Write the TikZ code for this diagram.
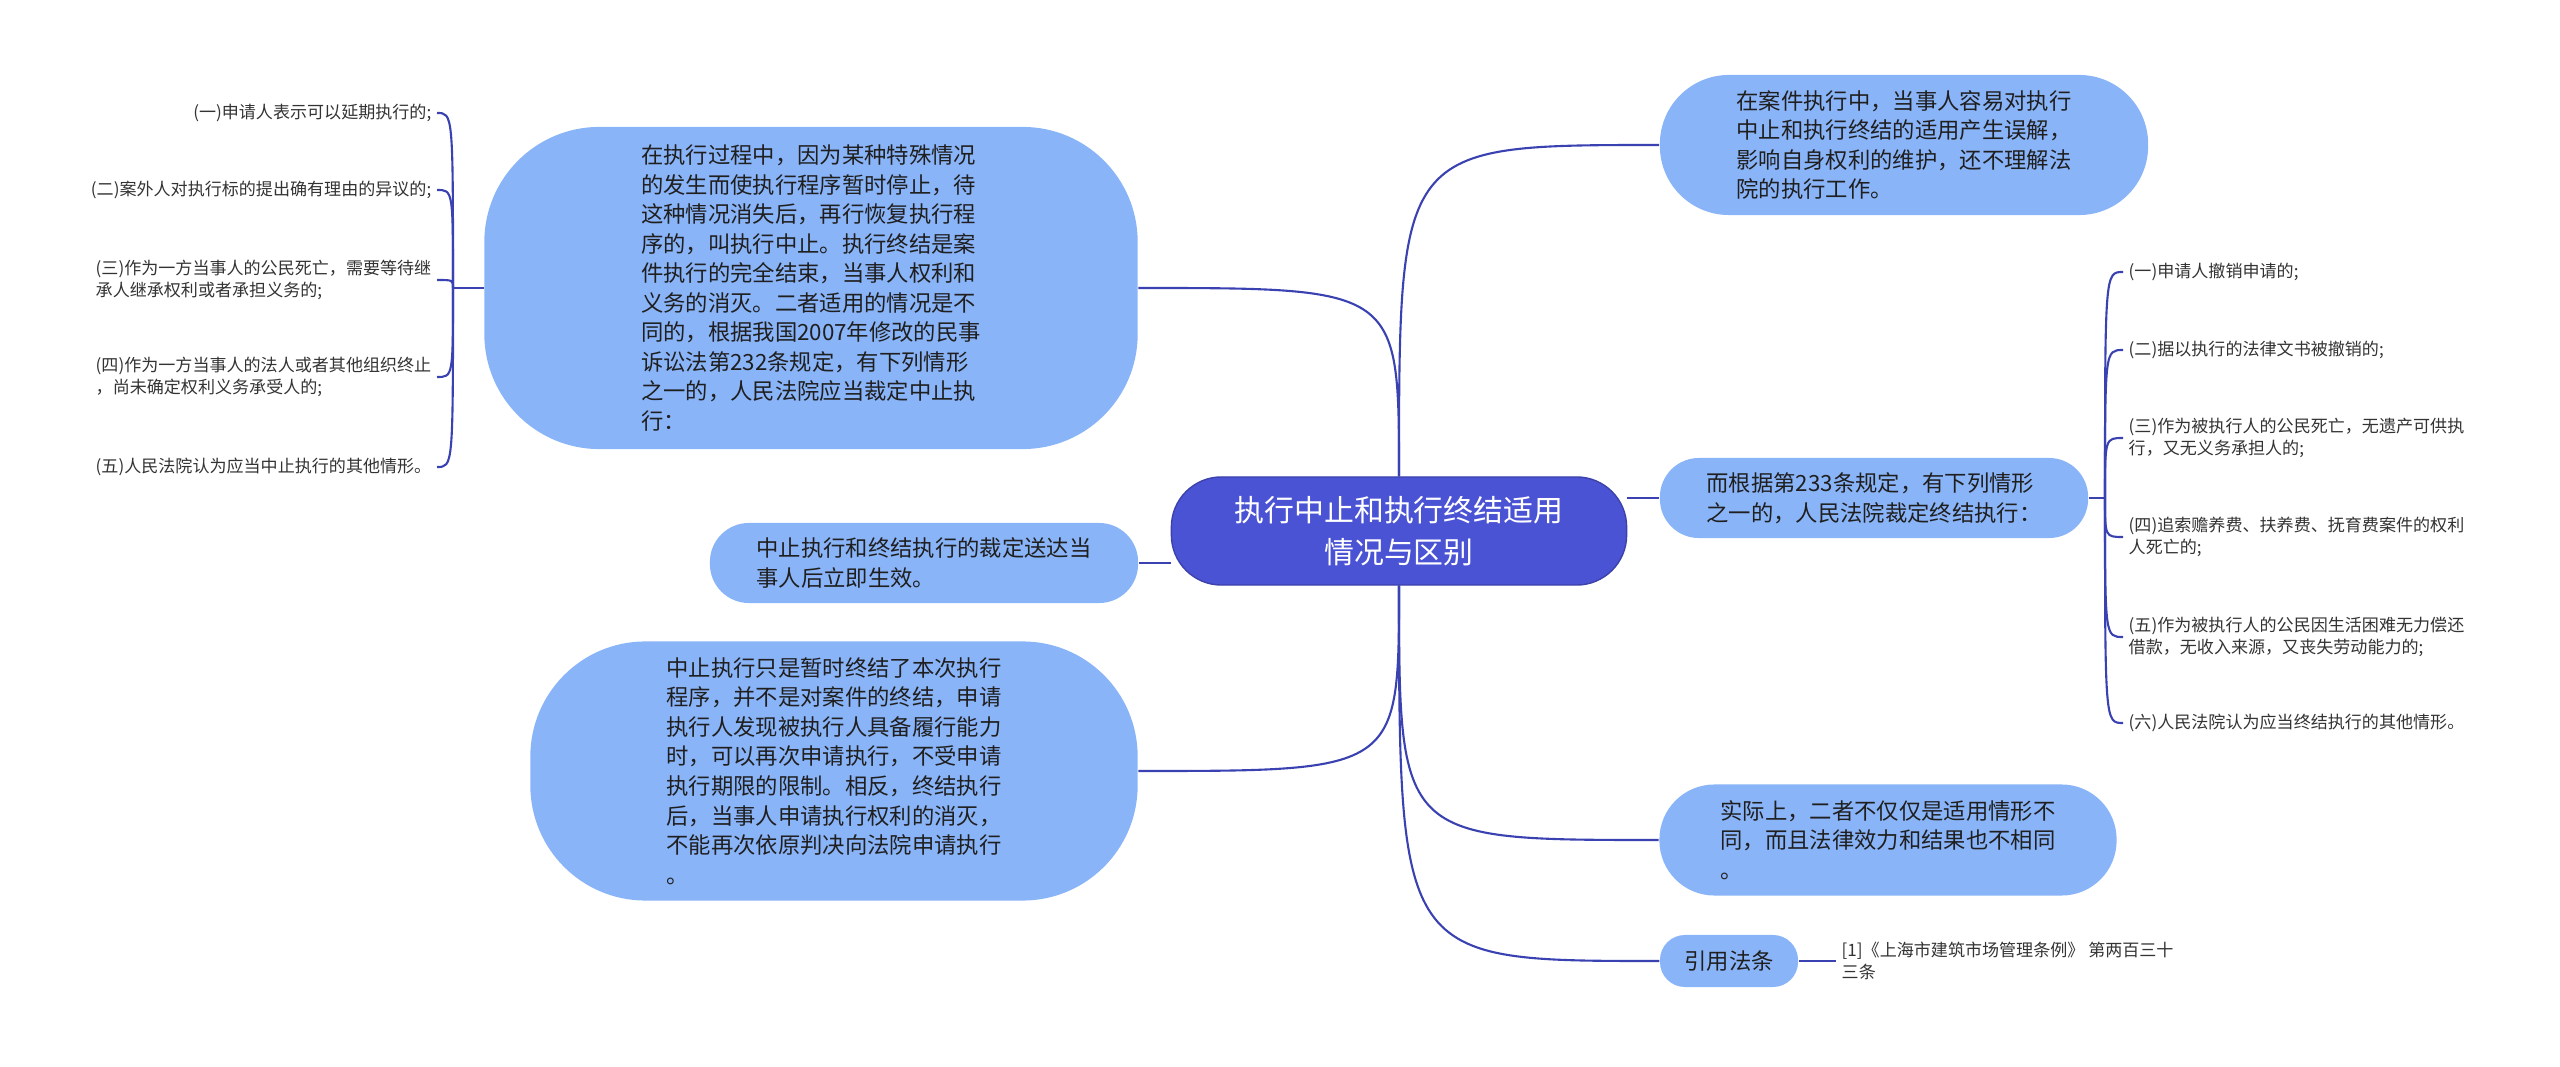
\documentclass[tikz,border=0pt]{standalone}
\usepackage{fontspec}
\setmainfont{Noto Sans CJK SC}
\usetikzlibrary{backgrounds}
\definecolor{rootblue}{HTML}{4B53D5}
\definecolor{topicblue}{HTML}{8AB4F8}
\definecolor{linkblue}{HTML}{3A42B2}
\definecolor{leafgray}{HTML}{333333}
\begin{document}
\begin{tikzpicture}[x=0.01cm,y=-0.01cm,
    root/.style={fill=rootblue,draw=rootblue!80!black,line width=0.4pt,text=white,align=center,font=\fontsize{8.5}{12}\selectfont},
    topic/.style={fill=topicblue,text=black!88,align=left,font=\fontsize{6.35}{8.4}\selectfont},
    leaf/.style={text=leafgray,align=left,inner sep=0.05cm,font=\fontsize{4.85}{6.3}\selectfont},
    link/.style={draw=linkblue,line width=0.6pt}]
  \useasboundingbox (0,0) rectangle (2560,1067);

  \node[root,minimum width=4.55cm,minimum height=1.08cm,rounded corners=0.5cm] (c) at (1399,531) {执行中止和执行终结适用\\情况与区别};

  \node[topic,minimum width=6.53cm,minimum height=3.22cm,rounded corners=1.15cm] (zhongzhi) at (811,288) {在执行过程中，因为某种特殊情况\\的发生而使执行程序暂时停止，待\\这种情况消失后，再行恢复执行程\\序的，叫执行中止。执行终结是案\\件执行的完全结束，当事人权利和\\义务的消灭。二者适用的情况是不\\同的，根据我国2007年修改的民事\\诉讼法第232条规定，有下列情形\\之一的，人民法院应当裁定中止执\\行：};
  \node[topic,minimum width=4.28cm,minimum height=0.8cm,rounded corners=0.39cm] (shengxiao) at (924,563) {中止执行和终结执行的裁定送达当\\事人后立即生效。};
  \node[topic,minimum width=6.07cm,minimum height=2.59cm,rounded corners=1.15cm] (qubie) at (834,771) {中止执行只是暂时终结了本次执行\\程序，并不是对案件的终结，申请\\执行人发现被执行人具备履行能力\\时，可以再次申请执行，不受申请\\执行期限的限制。相反，终结执行\\后，当事人申请执行权利的消灭，\\不能再次依原判决向法院申请执行\\。};

  \node[topic,minimum width=4.88cm,minimum height=1.4cm,rounded corners=0.69cm] (wujie) at (1904,145) {在案件执行中，当事人容易对执行\\中止和执行终结的适用产生误解，\\影响自身权利的维护，还不理解法\\院的执行工作。};
  \node[topic,minimum width=4.28cm,minimum height=0.8cm,rounded corners=0.39cm] (zhongjie) at (1874,498) {而根据第233条规定，有下列情形\\之一的，人民法院裁定终结执行：};
  \node[topic,minimum width=4.57cm,minimum height=1.11cm,rounded corners=0.55cm] (butong) at (1888,840) {实际上，二者不仅仅是适用情形不\\同，而且法律效力和结果也不相同\\。};
  \node[topic,minimum width=1.38cm,minimum height=0.52cm,rounded corners=0.25cm] (fatiao) at (1729,961) {引用法条};
  \node[leaf,anchor=west] (tiaowen) at (1836,961) {[1]《上海市建筑市场管理条例》 第两百三十\\三条};

  \node[leaf,anchor=east] (s1) at (437,113) {(一)申请人表示可以延期执行的;};
  \node[leaf,anchor=east] (s2) at (437,190) {(二)案外人对执行标的提出确有理由的异议的;};
  \node[leaf,anchor=east] (s3) at (437,280) {(三)作为一方当事人的公民死亡，需要等待继\\承人继承权利或者承担义务的;};
  \node[leaf,anchor=east] (s4) at (437,377) {(四)作为一方当事人的法人或者其他组织终止\\，尚未确定权利义务承受人的;};
  \node[leaf,anchor=east] (s5) at (437,467) {(五)人民法院认为应当中止执行的其他情形。};
  \coordinate (sj) at (453,288);

  \node[leaf,anchor=west] (t1) at (2123,272) {(一)申请人撤销申请的;};
  \node[leaf,anchor=west] (t2) at (2123,350) {(二)据以执行的法律文书被撤销的;};
  \node[leaf,anchor=west] (t3) at (2123,438) {(三)作为被执行人的公民死亡，无遗产可供执\\行，又无义务承担人的;};
  \node[leaf,anchor=west] (t4) at (2123,537) {(四)追索赡养费、扶养费、抚育费案件的权利\\人死亡的;};
  \node[leaf,anchor=west] (t5) at (2123,637) {(五)作为被执行人的公民因生活困难无力偿还\\借款，无收入来源，又丧失劳动能力的;};
  \node[leaf,anchor=west] (t6) at (2123,723) {(六)人民法院认为应当终结执行的其他情形。};
  \coordinate (tj) at (2105,498);

  \begin{scope}[on background layer]
    \draw[link] (c.north) .. controls (c.north |- zhongzhi.east) .. (zhongzhi.east);
    \draw[link] (c.north) .. controls (c.north |- wujie.west) .. (wujie.west);
    \draw[link] (c.west |- shengxiao.east) -- (shengxiao.east);
    \draw[link] (c.east |- zhongjie.west) -- (zhongjie.west);
    \draw[link] (c.south) .. controls (c.south |- qubie.east) .. (qubie.east);
    \draw[link] (c.south) .. controls (c.south |- butong.west) .. (butong.west);
    \draw[link] (c.south) .. controls (c.south |- fatiao.west) .. (fatiao.west);
    \draw[link] (fatiao.east) -- (tiaowen.west);
    \draw[link] (zhongzhi.west) -- (sj);
    \foreach \n in {s1,s2,s3,s4,s5}
      \draw[link] (sj) .. controls (sj |- \n.east) .. (\n.east);
    \draw[link] (zhongjie.east) -- (tj);
    \foreach \n in {t1,t2,t3,t4,t5,t6}
      \draw[link] (tj) .. controls (tj |- \n.west) .. (\n.west);
  \end{scope}
\end{tikzpicture}
\end{document}
